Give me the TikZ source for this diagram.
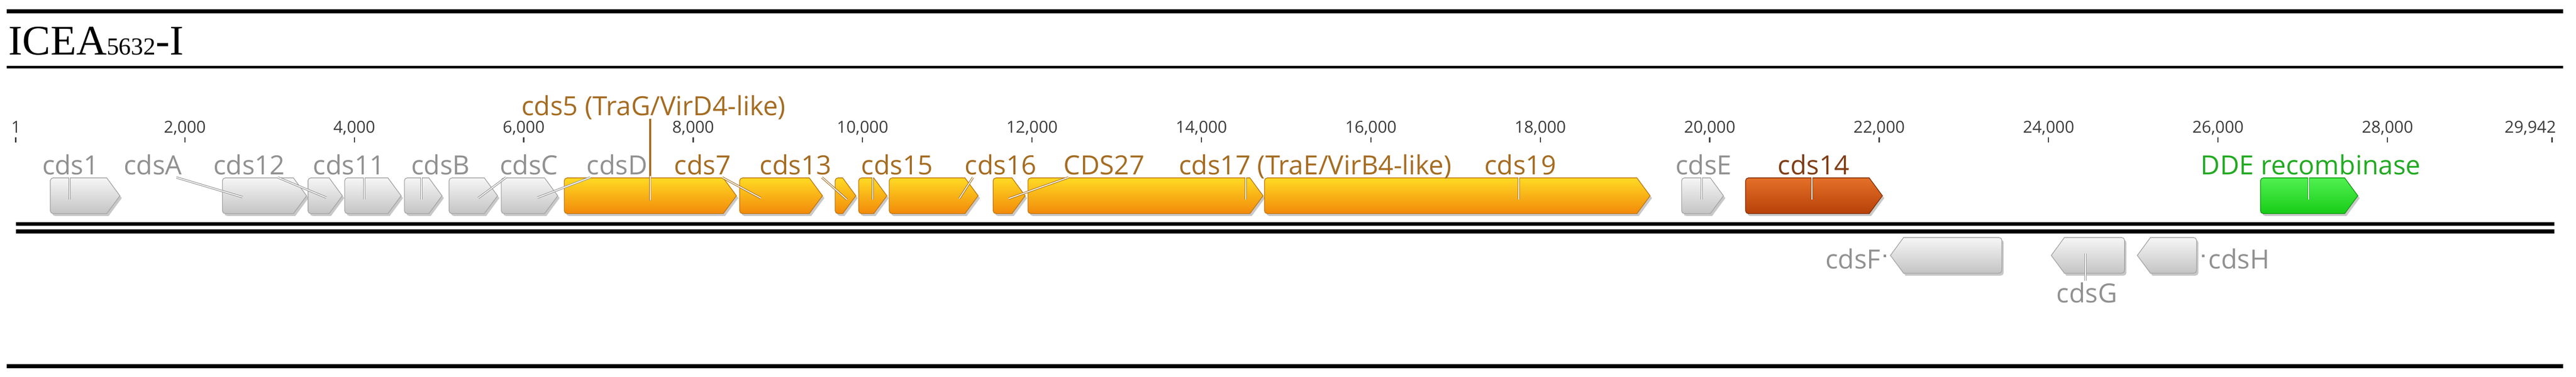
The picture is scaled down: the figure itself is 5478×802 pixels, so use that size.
\documentclass[tikz,border=0pt]{standalone}
\usepackage{fontspec}
\usetikzlibrary{calc}
\newfontfamily\gfont{Open Sans}
\newfontfamily\tfont{Liberation Serif}
\definecolor{labgray}{RGB}{145,145,145}
\definecolor{laborange}{RGB}{165,108,34}
\definecolor{labbrown}{RGB}{128,62,22}
\definecolor{labgreen}{RGB}{34,170,34}
\definecolor{gtop}{RGB}{246,246,246}
\definecolor{gbot}{RGB}{196,196,196}
\definecolor{gbrd}{RGB}{165,165,165}
\definecolor{otop}{RGB}{255,218,36}
\definecolor{obot}{RGB}{242,138,10}
\definecolor{obrd}{RGB}{190,118,20}
\definecolor{rtop}{RGB}{228,112,40}
\definecolor{rbot}{RGB}{182,64,8}
\definecolor{rbrd}{RGB}{130,48,8}
\definecolor{ltop}{RGB}{80,240,80}
\definecolor{lbot}{RGB}{24,204,24}
\definecolor{lbrd}{RGB}{20,150,20}
\definecolor{scalec}{RGB}{60,60,60}
\definecolor{shadowc}{RGB}{200,200,200}
\tikzset{
  ggray/.style={top color=gtop,bottom color=gbot,draw=gbrd},
  gorange/.style={top color=otop,bottom color=obot,draw=obrd},
  gred/.style={top color=rtop,bottom color=rbot,draw=rbrd},
  ggreen/.style={top color=ltop,bottom color=lbot,draw=lbrd},
  gline/.style={line width=0.015cm},
  glab/.style={anchor=base,inner sep=0pt,font=\gfont\fontsize{16}{19}\selectfont},
  scal/.style={anchor=base,inner sep=0pt,text=scalec,font=\gfont\fontsize{10}{12}\selectfont},
  tick/.style={draw=scalec,line width=0.025cm},
  lead/.style={line width=0.045cm},
  leadin/.style={white,line width=0.02cm},
  rule/.style={line width=0.08cm,black},
}
% forward gene: left end #1, tip #2
\newcommand\fpath[2]{({#2-28},423) -- ({#1+6},423) arc[start angle=90,end angle=180,radius=0.06cm] -- (#1,353) arc[start angle=180,end angle=270,radius=0.06cm] -- ({#2-28},347) -- (#2,385) -- cycle}
% reverse gene: tip #1, right end #2
\newcommand\rpath[2]{({#1+28},296) -- ({#2-6},296) arc[start angle=90,end angle=0,radius=0.06cm] -- (#2,226) arc[start angle=0,end angle=-90,radius=0.06cm] -- ({#1+28},220) -- (#1,258) -- cycle}
\newcommand\fgene[3]{%
  \begin{scope}[shift={(4,-5)}]\fill[shadowc]\fpath{#1}{#2};\end{scope}
  \shadedraw[#3,gline]\fpath{#1}{#2};}
\newcommand\rgene[3]{%
  \begin{scope}[shift={(4,-5)}]\fill[shadowc]\rpath{#1}{#2};\end{scope}
  \shadedraw[#3,gline]\rpath{#1}{#2};}
% label: name, x centre, text, colour, leader top x, leader bottom point
\newcommand\ulab[6]{%
  \node[glab,#4] (#1) at (#2,430) {#3};
  \coordinate (#1a) at (#5,424);
  \coordinate (#1b) at (#6);
  \draw[lead,#4] (#1a) -- (#1b);
  \draw[leadin] (#1a) -- (#1b);}
\begin{document}
\begin{tikzpicture}[x=0.01cm,y=0.01cm]
\useasboundingbox (0,0) rectangle (5478,802);
% rules
\coordinate (r1a) at (14,778); \coordinate (r1b) at (5451,778);
\coordinate (r2a) at (14,659); \coordinate (r2b) at (5451,659);
\coordinate (r3a) at (14,22);  \coordinate (r3b) at (5451,22);
\draw[rule] (r1a) -- (r1b);
\draw[rule,line width=0.045cm] (r2a) -- (r2b);
\draw[rule] (r3a) -- (r3b);
% title
\node[anchor=base west,inner sep=0pt,font=\tfont\fontsize{25.5}{30}\selectfont] (title) at (17,685) {ICEA{\fontsize{14.8}{16}\selectfont 5632}-I};
% scale (k = position in thousands of bp)
\foreach \k/\lab in {2/{2,000},4/{4,000},6/{6,000},8/{8,000},10/{10,000},12/{12,000},14/{14,000},16/{16,000},18/{18,000},20/{20,000},22/{22,000},24/{24,000},26/{26,000},28/{28,000}}{
  \draw[tick] ({32.82+180.15*\k},509) -- ({32.82+180.15*\k},499);
  \node[scal] at ({32.82+180.15*\k},519) {\lab};
}
\draw[tick,line width=0.035cm] (33,509) -- (33,499);
\node[scal] (s1) at (34,519) {1};
\draw[tick,line width=0.035cm] (5427,509) -- (5427,499);
\node[scal,anchor=base east] (send) at (5436,519) {29,942};
% sequence double line
\coordinate (d1a) at (34,325); \coordinate (d1b) at (5432,325);
\coordinate (d2a) at (34,309); \coordinate (d2b) at (5432,309);
\draw[rule] (d1a) -- (d1b);
\draw[rule] (d2a) -- (d2b);
% genes, forward strand
\fgene{107}{255}{ggray}
\fgene{473}{652}{ggray}
\fgene{655}{728}{ggray}
\fgene{733}{853}{ggray}
\fgene{860}{940}{ggray}
\fgene{955}{1058}{ggray}
\fgene{1066}{1186}{ggray}
\fgene{1200}{1566}{gorange}
\fgene{1573}{1749}{gorange}
\fgene{1776}{1820}{gorange}
\fgene{1826}{1886}{gorange}
\fgene{1891}{2080}{gorange}
\fgene{2112}{2180}{gorange}
\fgene{2186}{2686}{gorange}
\fgene{2689}{3509}{gorange}
\fgene{3576}{3665}{ggray}
\fgene{3712}{4003}{gred}
\fgene{4807}{5014}{ggreen}
% genes, reverse strand
\rgene{4020}{4257}{ggray}
\rgene{4362}{4518}{ggray}
\rgene{4545}{4671}{ggray}
% labels and leaders
\ulab{l1}{150}{cds1}{labgray}{148}{148,377}
\ulab{lA}{325}{cdsA}{labgray}{375}{516,382}
\ulab{l12}{530}{cds12}{labgray}{591}{694,381}
\ulab{l11}{742}{cds11}{labgray}{775}{775,377}
\ulab{lB}{937}{cdsB}{labgray}{896}{896,377}
\ulab{lC}{1125}{cdsC}{labgray}{1076}{1017,380}
\ulab{lD}{1312}{cdsD}{labgray}{1255}{1143,381}
\ulab{l7}{1494}{cds7}{laborange}{1536}{1618,380}
\ulab{l13}{1692}{cds13}{laborange}{1748}{1801,377}
\ulab{l15}{1908}{cds15}{laborange}{1856}{1856,377}
\ulab{l16}{2128}{cds16}{laborange}{2069}{2040,379}
\ulab{l27}{2348}{CDS27}{laborange}{2272}{2145,379}
\ulab{l17}{2797}{cds17 (TraE/VirB4-like)}{laborange}{2649}{2649,377}
\ulab{l19}{3233}{cds19}{laborange}{3230}{3230,377}
\ulab{lE}{3623}{cdsE}{labgray}{3619}{3619,377}
\ulab{l14}{3857}{cds14}{labbrown}{3853}{3853,377}
\ulab{lDDE}{4914}{DDE recombinase}{labgreen}{4909}{4909,377}
% cds5 label (upper row)
\node[glab,laborange] (l5) at (1390,556) {cds5 (TraG/VirD4-like)};
\coordinate (l5a) at (1383,549); \coordinate (l5b) at (1383,375);
\draw[lead,laborange] (l5a) -- (l5b);
\draw[leadin] ($(l5a)!0.7!(l5b)$) -- (l5b);
% reverse strand labels
\node[glab,labgray,anchor=base east] (lF) at (4000,230) {cdsF};
\coordinate (lFa) at (4005,257); \coordinate (lFb) at (4011,257);
\draw[lead,labgray] (lFa) -- (lFb);
\node[glab,labgray] (lG) at (4438,157) {cdsG};
\coordinate (lGa) at (4435,262); \coordinate (lGb) at (4435,204);
\draw[lead,labgray] (lGa) -- (lGb);
\draw[leadin] (lGa) -- (lGb);
\node[glab,labgray,anchor=base west] (lH) at (4696,230) {cdsH};
\coordinate (lHa) at (4682,257); \coordinate (lHb) at (4688,257);
\draw[lead,labgray] (lHa) -- (lHb);
\end{tikzpicture}
\end{document}
